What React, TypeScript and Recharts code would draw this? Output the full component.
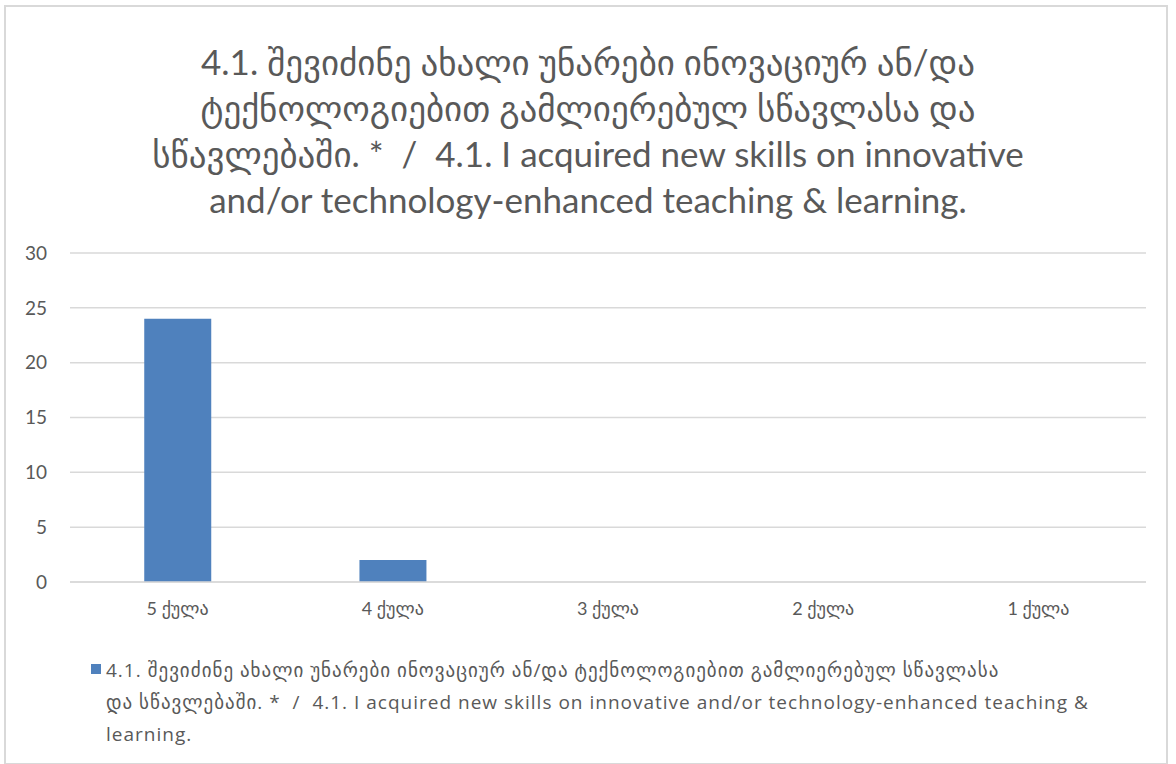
import { BarChart, Bar, XAxis, YAxis, CartesianGrid } from "recharts";

const categories = ["5 ქულა", "4 ქულა", "3 ქულა", "2 ქულა", "1 ქულა"];
const scores = [24, 2, 0, 0, 0];
const yTicks = [0, 5, 10, 15, 20, 25, 30];

const titleLines = [
  "4.1. შევიძინე ახალი უნარები ინოვაციურ ან/და",
  "ტექნოლოგიებით გამლიერებულ სწავლასა და",
  "სწავლებაში. *  /  4.1. I acquired new skills on innovative",
  "and/or technology-enhanced teaching & learning.",
];
const legendLines = [
  "4.1. შევიძინე ახალი უნარები ინოვაციურ ან/და ტექნოლოგიებით გამლიერებულ სწავლასა",
  "და სწავლებაში. *  /  4.1. I acquired new skills on innovative and/or technology-enhanced teaching &",
  "learning.",
];
const seriesName = legendLines.join(" ");

const data = categories.map((name, i) => ({ name, value: scores[i] }));

const FONT = "Lato, 'DejaVu Sans', sans-serif";
const LEGEND_FONT = "'Open Sans', 'DejaVu Sans', sans-serif";
const BLUE = "#4f81bd";
const GRID = "#d9d9d9";
const TEXT = "#595959";

export default function App() {
  return (
    <div
      style={{
        position: "absolute",
        left: 0,
        top: 0,
        width: 1176,
        height: 764,
        background: "#fff",
        fontFamily: FONT,
      }}
    >
      <div
        style={{
          position: "absolute",
          left: 4,
          top: 5,
          width: 1164,
          height: 760,
          border: `2px solid ${GRID}`,
          boxSizing: "border-box",
        }}
      />
      <div
        style={{
          position: "absolute",
          left: 0,
          top: 38,
          width: 1176,
          textAlign: "center",
          color: TEXT,
          fontSize: 35,
          lineHeight: "46px",
          whiteSpace: "pre",
        }}
      >
        {titleLines.map((l) => (
          <div key={l}>{l}</div>
        ))}
      </div>
      <div style={{ position: "absolute", left: 0, top: 0 }}>
        <BarChart
          width={1176}
          height={764}
          data={data}
          margin={{ top: 253, right: 30, bottom: 142, left: 20 }}
          barCategoryGap="34.5%"
        >
          <CartesianGrid vertical={false} stroke={GRID} strokeWidth={1.5} />
          <XAxis
            dataKey="name"
            axisLine={{ stroke: GRID, strokeWidth: 1.5 }}
            tickLine={false}
            tickMargin={14}
            height={40}
            tick={{ fill: TEXT, fontSize: 18, fontFamily: FONT }}
          />
          <YAxis
            width={50}
            domain={[0, 30]}
            ticks={yTicks}
            axisLine={false}
            tickLine={false}
            tickMargin={17}
            tick={{ fill: TEXT, fontSize: 19, fontFamily: FONT }}
          />
          <Bar
            dataKey="value"
            name={seriesName}
            fill={BLUE}
            isAnimationActive={false}
          />
        </BarChart>
      </div>
      <div
        style={{
          position: "absolute",
          left: 106,
          top: 654,
          color: TEXT,
          fontFamily: LEGEND_FONT,
          fontSize: 19,
          letterSpacing: 1,
          lineHeight: "32px",
          whiteSpace: "pre",
        }}
      >
        <span
          style={{
            position: "absolute",
            left: -15,
            top: 10,
            width: 10,
            height: 10,
            background: BLUE,
          }}
        />
        {legendLines.map((l) => (
          <div key={l}>{l}</div>
        ))}
      </div>
    </div>
  );
}
